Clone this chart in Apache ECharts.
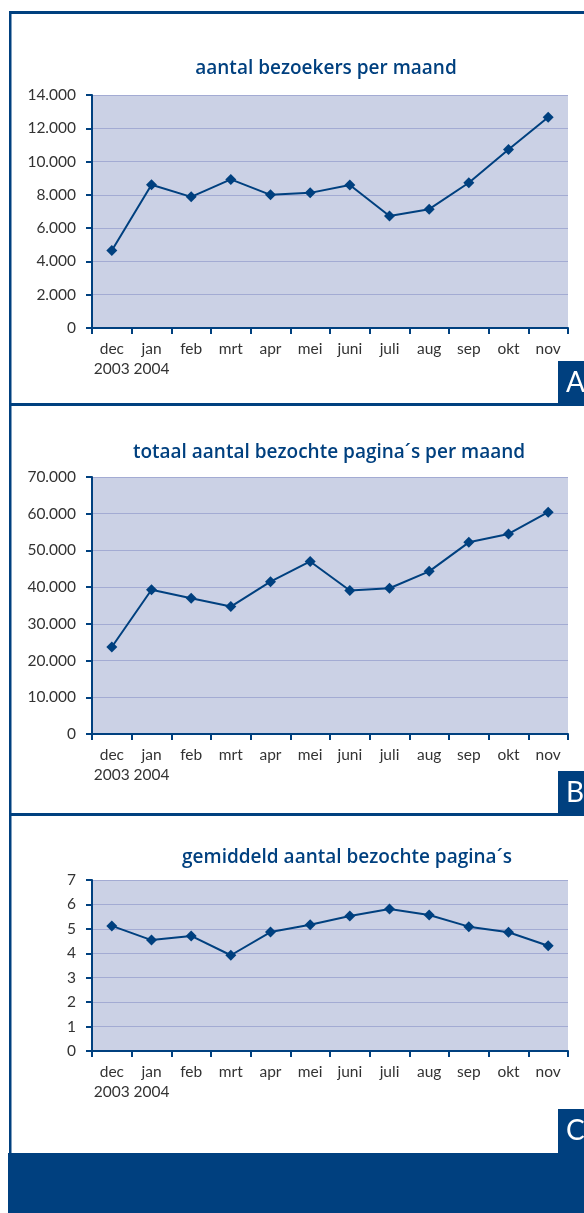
<!DOCTYPE html>
<html>
<head>
<meta charset="utf-8">
<script src="https://cdn.jsdelivr.net/npm/echarts@6/dist/echarts.min.js"></script>
<style>
html,body{margin:0;padding:0;background:#fff;}
#chart{width:584px;height:1213px;}
</style>
</head>
<body>
<div id="chart"></div>
<script>
const months = ['dec','jan','feb','mrt','apr','mei','juni','juli','aug','sep','okt','nov'];
const years = ['2003','2004','','','','','','','','','',''];
const visitors = [4660, 8610, 7880, 8930, 8000, 8120, 8590, 6730, 7140, 8730, 10730, 12660];
const pagesTotal = [23700, 39300, 37000, 34700, 41500, 47000, 39100, 39700, 44300, 52200, 54500, 60400];
const pagesAvg = [5.12, 4.54, 4.71, 3.92, 4.87, 5.17, 5.53, 5.81, 5.57, 5.09, 4.86, 4.31];
const titles = ['aantal bezoekers per maand', 'totaal aantal bezochte pagina´s per maand', 'gemiddeld aantal bezochte pagina´s'];
const panelLetters = ['A','B','C'];

const BLUE = '#00407f';
const FONT = 'Lato';
const chart = echarts.init(document.getElementById('chart'));

function fmtNL(v){
  return String(v).replace(/\B(?=(\d{3})+(?!\d))/g, '.');
}

const grids = [
  {left:92, top:95, width:476, height:233},
  {left:92, top:477, width:476, height:257},
  {left:92, top:880, width:476, height:171}
];
const yCfg = [
  {max:14000, interval:2000},
  {max:70000, interval:10000},
  {max:7, interval:1}
];
const seriesData = [visitors, pagesTotal, pagesAvg];
const titleCenters = [[326, 59], [329, 443], [347, 848]];

const option = {
  animation:false,
  backgroundColor:'#ffffff',
  title: titles.map((t,i)=>({
    text:t, left:titleCenters[i][0], top:titleCenters[i][1], textAlign:'center', padding:0,
    textStyle:{color:BLUE, fontFamily:'Open Sans', fontWeight:600, fontSize:19}
  })),
  grid: grids.map(g=>Object.assign({show:true, backgroundColor:'#cbd1e5', borderWidth:0, containLabel:false}, g)),
  xAxis: grids.map((g,i)=>({
    type:'category', gridIndex:i, data:months, boundaryGap:true,
    axisLine:{show:true, lineStyle:{color:BLUE, width:2}},
    axisTick:{show:true, length:6, interval:0, lineStyle:{color:BLUE, width:2}},
    axisLabel:{interval:0, margin:11, color:'#333', fontFamily:FONT, fontSize:15.5, lineHeight:20,
      formatter:(v, idx)=> years[idx] ? v + '\n' + years[idx] : v},
    splitLine:{show:false}
  })),
  yAxis: grids.map((g,i)=>({
    type:'value', gridIndex:i, min:0, max:yCfg[i].max, interval:yCfg[i].interval,
    axisLine:{show:true, lineStyle:{color:BLUE, width:2}},
    axisTick:{show:true, length:6, lineStyle:{color:BLUE, width:2}},
    axisLabel:{margin:16, color:'#333', fontFamily:FONT, fontSize:15.5, formatter:v=>fmtNL(v)},
    splitLine:{show:true, lineStyle:{color:'#a3abd3', width:1}}
  })),
  series: seriesData.map((d,i)=>({
    type:'line', xAxisIndex:i, yAxisIndex:i, data:d,
    symbol:'diamond', symbolSize:11, showSymbol:true,
    lineStyle:{color:BLUE, width:2}, itemStyle:{color:BLUE},
    z:5
  })),
  graphic: [
    {type:'rect', shape:{x:9, y:11, width:575, height:3}, style:{fill:BLUE}, silent:true},
    {type:'rect', shape:{x:9, y:11, width:2.5, height:1145}, style:{fill:BLUE}, silent:true},
    {type:'rect', shape:{x:9, y:403, width:575, height:3}, style:{fill:BLUE}, silent:true},
    {type:'rect', shape:{x:9, y:813, width:575, height:3}, style:{fill:BLUE}, silent:true},
    {type:'rect', shape:{x:558, y:361, width:26, height:44}, style:{fill:BLUE}, silent:true},
    {type:'rect', shape:{x:558, y:771, width:26, height:44}, style:{fill:BLUE}, silent:true},
    {type:'rect', shape:{x:558, y:1109, width:26, height:44}, style:{fill:BLUE}, silent:true},
    {type:'rect', shape:{x:8, y:1153, width:576, height:60}, style:{fill:BLUE}, silent:true},
    {type:'text', left:566, top:369, style:{text:panelLetters[0], fill:'#fff', font:'28px Lato'}, silent:true},
    {type:'text', left:566, top:779, style:{text:panelLetters[1], fill:'#fff', font:'28px Lato'}, silent:true},
    {type:'text', left:566, top:1117, style:{text:panelLetters[2], fill:'#fff', font:'28px Lato'}, silent:true}
  ]
};
chart.setOption(option);
</script>
</body>
</html>
